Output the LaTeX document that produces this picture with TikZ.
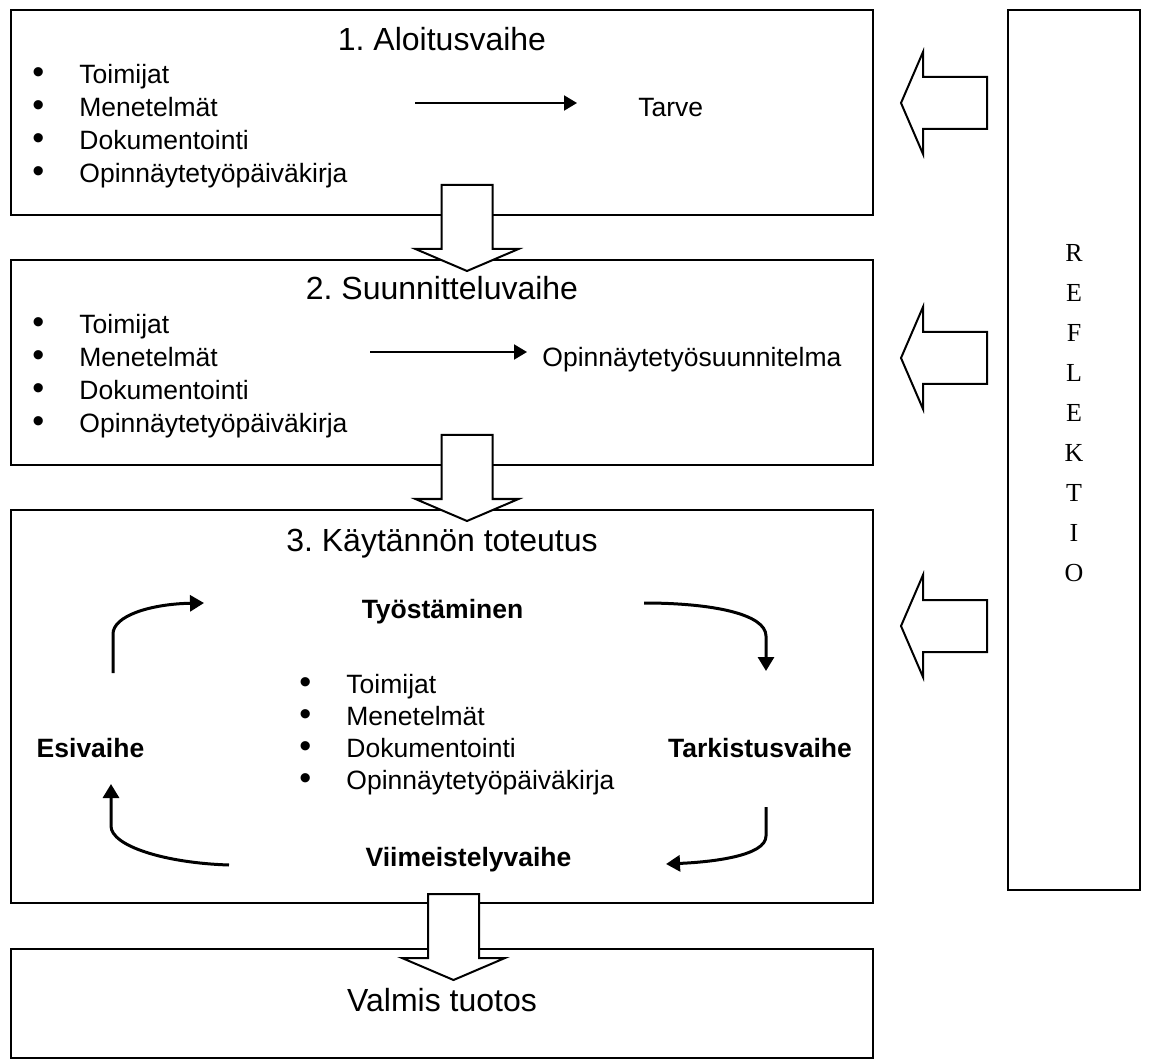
\documentclass[tikz,border=0pt]{standalone}
\usepackage{fontspec}
\setmainfont{Liberation Sans}
\newfontfamily\reflfont{Liberation Serif}
\usetikzlibrary{arrows.meta}
\frenchspacing

\newcommand{\luetelma}{\makebox[23.5pt][l]{\fontsize{17}{17}\selectfont\textbullet}}

\tikzset{
  phase/.style={draw, line width=1pt, inner sep=0pt, minimum width=431pt},
  title/.style={font=\fontsize{16}{19}\selectfont, inner sep=0pt, anchor=base},
  item/.style={font=\fontsize{13.25}{16}\selectfont, inner sep=0pt, anchor=base west},
  stage/.style={font=\bfseries\fontsize{13.25}{16}\selectfont, inner sep=0pt, anchor=base},
  flow/.style={line width=1pt, -{Triangle[length=6.5pt,width=7.5pt]}},
  kierto/.style={line width=1.5pt, -{Triangle[length=7pt,width=8pt]}},
  down block/.pic={
    \draw[line width=1pt, fill=white] (-25.5,0) -- (25.5,0) -- (25.5,64) -- (51.5,64)
      -- (0,86) -- (-51.5,64) -- (-25.5,64) -- cycle;},
  left block/.pic={
    \draw[line width=1pt, fill=white] (0,0) -- (22,-51) -- (22,-26) -- (86,-26)
      -- (86,26) -- (22,26) -- (22,51) -- cycle;}
}

\begin{document}
\begin{tikzpicture}[x=0.5pt, y=-0.5pt]
  \useasboundingbox (0,0) rectangle (1150,1063);

  \node[phase, minimum height=102.5pt] (vaihe1) at (442,112.5) {};
  \node[phase, minimum height=102.5pt] (vaihe2) at (442,362.5) {};
  \node[phase, minimum height=196.5pt] (vaihe3) at (442,706.5) {};
  \node[phase, minimum height=54.5pt] (tuotos) at (442,1003.5) {};
  \node[draw, line width=1pt, inner sep=0pt, minimum width=66pt, minimum height=440pt]
    (reflektio) at (1074,450) {};

  \node[title] (otsikko1) at (442,51) {1. Aloitusvaihe};
  \node[title] (otsikko2) at (442,300) {2. Suunnitteluvaihe};
  \node[title] (otsikko3) at (442,551) {3. Käytännön toteutus};
  \node[title] (valmis) at (442,1011) {Valmis tuotos};

  \foreach \txt [count=\i] in {Toimijat, Menetelmät, Dokumentointi, Opinnäytetyöpäiväkirja} {
    \node[item] (aloitus-\i) at (32,{51+33*\i}) {\luetelma\txt};
    \node[item] (suunn-\i) at (32,{301+33*\i}) {\luetelma\txt};
    \node[item] (toteutus-\i) at (299,{661+32*\i}) {\luetelma\txt};
  }

  \node[item] (tarve) at (638,117) {Tarve};
  \node[item] (suunnitelma) at (542,367) {Opinnäytetyösuunnitelma};
  \coordinate (n1a) at (415,103);
  \coordinate (n1b) at (577,103);
  \coordinate (n2a) at (370,352);
  \coordinate (n2b) at (527,352);
  \draw[flow] (n1a) -- (n1b);
  \draw[flow] (n2a) -- (n2b);

  \node[stage] (tyostaminen) at (442.5,618) {Työstäminen};
  \node[stage] (tarkistus) at (760,757) {Tarkistusvaihe};
  \node[stage] (viimeistely) at (468.5,866) {Viimeistelyvaihe};
  \node[stage] (esivaihe) at (90.5,757) {Esivaihe};

  \coordinate (k1a) at (113,673);
  \coordinate (k1b) at (204,603);
  \coordinate (k2a) at (644,603);
  \coordinate (k2b) at (766,671);
  \coordinate (k3a) at (766,807);
  \coordinate (k3b) at (666,864);
  \coordinate (k4a) at (229,865);
  \coordinate (k4b) at (111,784);
  \draw[kierto] (k1a) -- (113,634) .. controls (113,616) and (150,604) .. (k1b);
  \draw[kierto] (k2a) .. controls (712,603) and (766,614) .. (766,636) -- (k2b);
  \draw[kierto] (k3a) -- (766,836) .. controls (766,856) and (712,862) .. (k3b);
  \draw[kierto] (k4a) .. controls (165,863) and (111,846) .. (111,826) -- (k4b);

  \node[font=\reflfont\fontsize{13}{20}\selectfont, align=center, inner sep=0pt]
    (refl) at (1074,413) {R\\E\\F\\L\\E\\K\\T\\I\\O};

  \pic at (467,185) {down block};
  \pic at (467,435) {down block};
  \pic at (453.5,894) {down block};

  \pic at (901,103) {left block};
  \pic at (901,358) {left block};
  \pic at (901,626) {left block};
\end{tikzpicture}
\end{document}
